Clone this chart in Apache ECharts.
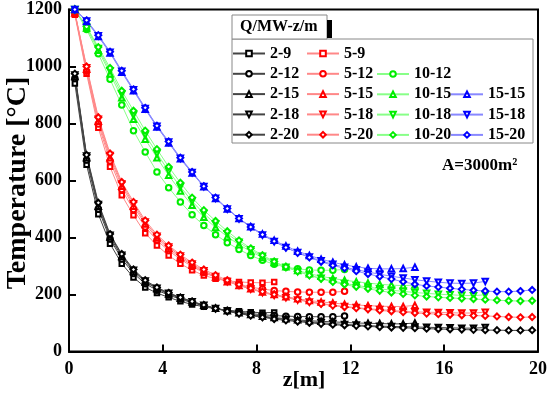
<!DOCTYPE html>
<html>
<head>
<meta charset="utf-8">
<script src="https://cdn.jsdelivr.net/npm/echarts@6/dist/echarts.min.js"></script>
<style>
html,body{margin:0;padding:0;background:#fff;}
#chart{width:550px;height:395px;}
</style>
</head>
<body>
<div id="chart"></div>
<script>
// z positions [m]
var zValues = [0.25, 0.75, 1.25, 1.75, 2.25, 2.75, 3.25, 3.75, 4.25, 4.75,
  5.25, 5.75, 6.25, 6.75, 7.25, 7.75, 8.25, 8.75, 9.25, 9.75,
  10.25, 10.75, 11.25, 11.75, 12.25, 12.75, 13.25, 13.75, 14.25, 14.75,
  15.25, 15.75, 16.25, 16.75, 17.25, 17.75, 18.25, 18.75, 19.25, 19.75];

// Q = 2 MW
var q2_9  = [940, 655, 482, 378, 308, 260, 225, 205, 190, 176, 165, 157, 150, 145, 141, 138, 136, 137];
var q2_12 = [958, 672, 500, 395, 325, 274, 238, 215, 198, 184, 171, 160, 151, 144, 138, 133, 129, 126, 124, 123, 122, 122, 122, 125];
var q2_15 = [965, 680, 510, 402, 333, 281, 244, 220, 202, 187, 174, 162, 152, 143, 136, 130, 124, 119, 115, 111, 108, 106, 104, 102, 100, 99, 98, 97, 97, 100];
var q2_18 = [970, 686, 516, 408, 338, 285, 247, 222, 204, 189, 175, 162, 151, 142, 134, 128, 122, 117, 112, 108, 104, 101, 98, 95, 93, 91, 89, 88, 87, 86, 85, 84, 83, 82, 82, 84];
var q2_20 = [975, 690, 522, 412, 342, 288, 250, 225, 206, 190, 176, 163, 151, 141, 133, 126, 120, 114, 109, 105, 101, 97, 94, 92, 90, 88, 86, 84, 83, 82, 80, 79, 78, 77, 76, 75, 75, 74, 74, 75];
// Q = 5 MW
var q5_9  = [1182, 975, 785, 648, 548, 478, 415, 372, 337, 308, 285, 267, 255, 248, 244, 242, 241, 244];
var q5_12 = [1186, 983, 798, 668, 568, 498, 437, 390, 354, 324, 298, 277, 260, 246, 235, 226, 219, 214, 211, 209, 208, 208, 208, 211];
var q5_15 = [1188, 990, 808, 680, 580, 510, 447, 398, 361, 330, 303, 280, 261, 245, 232, 220, 209, 200, 192, 185, 179, 174, 170, 166, 163, 161, 159, 158, 158, 162];
var q5_18 = [1189, 996, 815, 688, 588, 518, 454, 404, 367, 335, 307, 283, 263, 246, 232, 219, 207, 197, 189, 181, 174, 168, 163, 158, 154, 150, 147, 144, 141, 139, 138, 137, 136, 135, 135, 138];
var q5_20 = [1190, 1000, 822, 695, 595, 525, 460, 410, 372, 340, 312, 288, 268, 250, 235, 222, 210, 200, 191, 183, 174, 167, 161, 156, 152, 148, 144, 141, 138, 135, 133, 131, 129, 127, 126, 125, 123, 121, 120, 121];
// Q = 10 MW
var q10_12 = [1200, 1130, 1045, 955, 865, 775, 700, 630, 575, 525, 480, 442, 410, 382, 358, 337, 320, 306, 296, 290, 286, 285, 285, 288];
var q10_15 = [1200, 1135, 1057, 975, 890, 815, 745, 680, 618, 563, 513, 471, 435, 403, 375, 351, 330, 312, 297, 284, 273, 264, 256, 250, 245, 240, 236, 233, 231, 233];
var q10_18 = [1200, 1138, 1063, 985, 903, 830, 760, 695, 633, 578, 527, 484, 447, 413, 383, 357, 334, 314, 296, 281, 268, 257, 247, 239, 232, 226, 220, 215, 211, 207, 204, 201, 199, 197, 196, 199];
var q10_20 = [1200, 1140, 1068, 995, 915, 845, 775, 710, 648, 592, 540, 496, 458, 422, 390, 362, 338, 316, 297, 281, 267, 255, 244, 235, 227, 220, 213, 207, 202, 197, 193, 190, 188, 186, 184, 182, 180, 178, 177, 178];
// Q = 15 MW
var q15_15 = [1200, 1158, 1105, 1047, 980, 915, 850, 788, 732, 676, 626, 578, 537, 500, 467, 438, 412, 390, 370, 352, 337, 324, 313, 304, 297, 292, 290, 290, 291, 296];
var q15_18 = [1200, 1160, 1108, 1050, 983, 918, 853, 790, 735, 678, 628, 579, 538, 500, 466, 436, 409, 386, 365, 347, 332, 318, 306, 296, 287, 279, 271, 264, 258, 252, 247, 243, 240, 239, 240, 246];
var q15_20 = [1200, 1162, 1110, 1052, 985, 920, 855, 792, 737, 680, 630, 580, 540, 502, 467, 437, 410, 387, 365, 346, 330, 315, 302, 292, 282, 272, 263, 254, 245, 236, 230, 226, 222, 218, 215, 212, 210, 210, 212, 216];

var xTicks = [0, 4, 8, 12, 16, 20];
var yTicks = [0, 200, 400, 600, 800, 1000, 1200];

var seriesNames = ['2-9','2-12','2-15','2-18','2-20','5-9','5-12','5-15','5-18','5-20',
  '10-12','10-15','10-18','10-20','15-15','15-18','15-20'];
var seriesValues = [q2_9,q2_12,q2_15,q2_18,q2_20,q5_9,q5_12,q5_15,q5_18,q5_20,
  q10_12,q10_15,q10_18,q10_20,q15_15,q15_18,q15_20];

var markerColors = {'2':'#000000','5':'#ff0000','10':'#00ee00','15':'#0000ff'};
var lineColors = {'2':'#444444','5':'#ff8888','10':'#88ff88','15':'#8888ff'};
var symbolByLen = {'9':'emptyRect','12':'emptyCircle','15':'emptyTriangle','18':'emptyTriangle','20':'emptyDiamond'};

var series = seriesNames.map(function(name, i){
  var parts = name.split('-');
  var q = parts[0], len = parts[1];
  var vals = seriesValues[i];
  var pts = vals.map(function(v, k){ return [zValues[k], v]; });
  return {
    name: name,
    type: 'line',
    data: pts,
    symbol: symbolByLen[len],
    symbolRotate: len === '18' ? 180 : 0,
    symbolSize: len === '9' ? 4.5 : (len === '20' ? 6 : 5.5),
    showSymbol: true,
    lineStyle: {color: lineColors[q], width: 1},
    itemStyle: {color: markerColors[q], borderColor: markerColors[q], borderWidth: 1.6},
    emphasis: {disabled: true},
    z: 2
  };
});

var serif = '"Liberation Serif","Times New Roman",serif';
function legendCol(names, left, top){
  return {
    orient: 'vertical', left: left, top: top, padding: 0,
    itemWidth: 32, itemHeight: 7, itemGap: 4.3,
    selectedMode: false,
    data: names,
    textStyle: {fontFamily: serif, fontWeight: 'bold', fontSize: 16, color: '#000', lineHeight: 16}
  };
}

var chart = echarts.init(document.getElementById('chart'), null, {renderer: 'canvas'});
chart.setOption({
  animation: false,
  backgroundColor: '#fff',
  grid: {left: 69, right: 12, top: 9.5, bottom: 43.5, outerBoundsMode: 'none', containLabel: false,
    show: true, borderColor: '#000', borderWidth: 2, backgroundColor: 'transparent'},
  xAxis: {
    type: 'value', min: 0, max: 20, interval: 4,
    axisLine: {show: true, lineStyle: {color: '#000', width: 2}},
    axisTick: {show: true, inside: true, length: 7, lineStyle: {color: '#000', width: 2}},
    axisLabel: {fontFamily: serif, fontWeight: 'bold', fontSize: 18, color: '#000', margin: 9,
      formatter: function(v){ return String(v); }},
    splitLine: {show: false}
  },
  yAxis: {
    type: 'value', min: 0, max: 1200, interval: 200,
    axisLine: {show: true, lineStyle: {color: '#000', width: 2}},
    axisTick: {show: true, inside: true, length: 7, lineStyle: {color: '#000', width: 2}},
    axisLabel: {fontFamily: serif, fontWeight: 'bold', fontSize: 18, color: '#000', margin: 7,
      formatter: function(v){ return String(v); }},
    splitLine: {show: false}
  },
  legend: [
    legendCol(['2-9','2-12','2-15','2-18','2-20'], 232, 45.5),
    legendCol(['5-9','5-12','5-15','5-18','5-20'], 306, 45.5),
    legendCol(['10-12','10-15','10-18','10-20'], 376, 66),
    legendCol(['15-15','15-18','15-20'], 450, 86.3)
  ],
  graphic: [
    {type: 'rect', shape: {x: 232, y: 39, width: 301, height: 104}, style: {fill: '#fff', stroke: '#888', lineWidth: 1}, z: 0},
    {type: 'rect', shape: {x: 232, y: 15, width: 95, height: 24}, style: {fill: '#fff', stroke: '#888', lineWidth: 1}, z: 0},
    {type: 'rect', shape: {x: 327, y: 20, width: 5, height: 18}, style: {fill: '#000'}, z: 0},
    {type: 'text', left: 240, top: 19, style: {text: 'Q/MW-z/m', font: 'bold 16px ' + serif, fill: '#000'}, z: 1},
    {type: 'text', left: 442, top: 157, style: {text: 'A=3000m²', font: 'bold 17px ' + serif, fill: '#000'}, z: 1},
    {type: 'text', x: 18, y: 183, rotation: Math.PI / 2,
      style: {text: 'Temperature [°C]', font: 'bold 28px ' + serif, fill: '#000', align: 'center', verticalAlign: 'middle'}, z: 1},
    {type: 'text', x: 304, y: 380,
      style: {text: 'z[m]', font: 'bold 22px ' + serif, fill: '#000', align: 'center', verticalAlign: 'middle'}, z: 1}
  ],
  series: series
});
</script>
</body>
</html>
